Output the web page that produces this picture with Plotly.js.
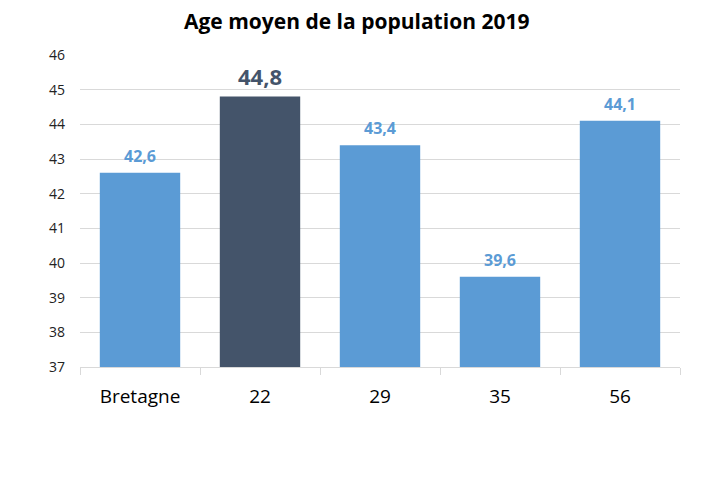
<!DOCTYPE html>
<html>
<head>
<meta charset="utf-8">
<script src="https://cdn.plot.ly/plotly-3.0.1.min.js"></script>
<style>body{margin:0;padding:0;background:#fff;} #chart{width:728px;height:485px;}</style>
</head>
<body>
<div id="chart"></div>
<script>
const categories = ["Bretagne", "22", "29", "35", "56"];
const ageMoyen = [42.6, 44.8, 43.4, 39.6, 44.1];
const barColors = ["#5B9BD5", "#44546A", "#5B9BD5", "#5B9BD5", "#5B9BD5"];
const labelSizes = [16, 22, 16, 16, 16];
const yTicks = [37, 38, 39, 40, 41, 42, 43, 44, 45, 46];

const trace = {
  type: "bar",
  x: categories,
  y: ageMoyen,
  marker: {color: barColors},
  hoverinfo: "none"
};

// category axis positions are given by index so "22" etc. are not read as numbers
const annotations = categories.map((c, i) => ({
  x: i, y: ageMoyen[i], xref: "x", yref: "y",
  text: "<b>" + ageMoyen[i].toFixed(1).replace(".", ",") + "</b>",
  showarrow: false, yanchor: "bottom", yshift: 4,
  font: {family: "Open Sans, sans-serif", size: labelSizes[i], color: barColors[i]}
}));

const layout = {
  width: 728, height: 485,
  margin: {l: 80, r: 48, t: 55, b: 118},
  paper_bgcolor: "#fff", plot_bgcolor: "#fff",
  bargap: 0.33,
  showlegend: false,
  annotations: annotations,
  title: {text: "<b>Age moyen de la population 2019</b>", x: 0.49, xanchor: "center", y: 0.955, yanchor: "middle",
          font: {family: "Open Sans, sans-serif", size: 21, color: "#000"}},
  xaxis: {
    type: "category",
    categoryorder: "array", categoryarray: categories,
    range: [-0.5, categories.length - 0.5],
    tickangle: 0,
    showline: true, linecolor: "#d9d9d9", linewidth: 1,
    ticks: "outside", tickson: "boundaries", ticklen: 7, tickcolor: "#d9d9d9",
    tickfont: {family: "Open Sans, sans-serif", size: 19, color: "#000"},
    ticklabelstandoff: 12,
    showgrid: false
  },
  yaxis: {
    range: [37, 46],
    tickvals: yTicks,
    ticktext: yTicks.map(String),
    showgrid: true, gridcolor: "#d9d9d9", gridwidth: 1,
    zeroline: false, showline: false,
    tickfont: {family: "Open Sans, sans-serif", size: 14, color: "#222"},
    ticklabelstandoff: 14
  }
};

Plotly.newPlot("chart", [trace], layout, {displayModeBar: false, staticPlot: true});
</script>
</body>
</html>
